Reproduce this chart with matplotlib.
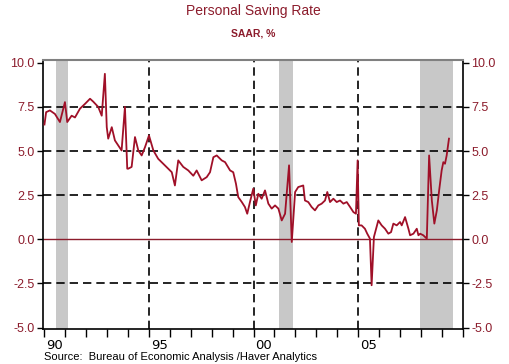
import numpy as np
import matplotlib
matplotlib.use('Agg')
import matplotlib.pyplot as plt

plt.rcParams['font.family'] = ['Liberation Sans', 'DejaVu Sans']

# monthly-ish readings of the personal saving rate (decimal year, %)
years = [1990.00, 1990.08, 1990.26, 1990.50, 1990.74, 1990.98, 1991.09, 1991.30,
         1991.46, 1991.70, 1991.94, 1992.18, 1992.33, 1992.57, 1992.74, 1992.89,
         1992.98, 1993.05, 1993.22, 1993.37, 1993.69, 1993.85, 1993.96, 1994.01,
         1994.17, 1994.33, 1994.49, 1994.65, 1994.81, 1995.00, 1995.21, 1995.44,
         1995.68, 1995.92, 1996.09, 1996.24, 1996.40, 1996.64, 1996.88, 1997.12,
         1997.28, 1997.52, 1997.76, 1997.92, 1998.08, 1998.24, 1998.48, 1998.64,
         1998.88, 1999.03, 1999.16, 1999.27, 1999.44, 1999.59, 1999.70, 1999.83,
         1999.99, 2000.11, 2000.23, 2000.39, 2000.55, 2000.71, 2000.87, 2001.03,
         2001.19, 2001.35, 2001.51, 2001.70, 2001.83, 2001.99, 2002.14, 2002.38,
         2002.46, 2002.62, 2002.78, 2002.94, 2003.10, 2003.26, 2003.42, 2003.53,
         2003.66, 2003.82, 2003.98, 2004.14, 2004.30, 2004.46, 2004.62, 2004.78,
         2004.90, 2004.98, 2005.04, 2005.17, 2005.33, 2005.44, 2005.57, 2005.65,
         2005.76, 2005.97, 2006.13, 2006.29, 2006.45, 2006.58, 2006.69, 2006.85,
         2007.01, 2007.09, 2007.25, 2007.41, 2007.49, 2007.65, 2007.81, 2007.89,
         2007.97, 2008.12, 2008.29, 2008.40, 2008.53, 2008.65, 2008.77, 2008.88,
         2009.00, 2009.08, 2009.16, 2009.24, 2009.35]
rate = [6.5, 7.2, 7.3, 7.1, 6.64, 7.77, 6.64, 7.0,
        6.9, 7.4, 7.67, 7.96, 7.8, 7.5, 7.0, 9.37,
        6.35, 5.7, 6.35, 5.6, 5.03, 7.5, 4.0, 4.0,
        4.1, 5.79, 5.03, 4.75, 5.22, 5.88, 5.03, 4.56,
        4.28, 4.0, 3.8, 3.05, 4.47, 4.1, 3.9, 3.6,
        3.9, 3.34, 3.52, 3.8, 4.65, 4.75, 4.47, 4.37,
        3.9, 3.8, 3.15, 2.39, 2.11, 1.83, 1.45, 2.11,
        2.87, 1.92, 2.58, 2.3, 2.77, 2.02, 1.74, 1.92,
        1.74, 1.07, 1.45, 4.19, -0.15, 2.68, 2.96, 3.05,
        2.2, 2.11, 1.83, 1.64, 1.92, 2.02, 2.2, 2.68,
        2.11, 2.3, 2.11, 2.2, 2.02, 2.11, 1.83, 1.54,
        1.45, 4.47, 0.79, 0.79, 0.6, 0.32, 0.04, -2.6,
        0.13, 1.07, 0.79, 0.6, 0.32, 0.41, 0.89, 0.79,
        0.98, 0.79, 1.26, 0.6, 0.23, 0.32, 0.6, 0.23,
        0.32, 0.23, 0.04, 4.75, 2.2, 0.89, 1.64, 2.77,
        3.9, 4.37, 4.28, 4.75, 5.7]

recessions = [(1990.55, 1991.15), (2001.2, 2001.9), (2007.95, 2009.55)]
yticks = [-5.0, -2.5, 0.0, 2.5, 5.0, 7.5, 10.0]
xlabels = ['90', '95', '00', '05']
xlabel_years = [1990, 1995, 2000, 2005]

red = '#8c1c2c'
line_red = '#a01028'

fig = plt.figure(figsize=(5.10, 3.64), dpi=100)
ax = fig.add_axes([0.0843, 0.096, 0.8235, 0.739])

for a, b in recessions:
    ax.axvspan(a, b, color='#c8c8c8', lw=0, zorder=0)

for y in [-2.5, 2.5, 5.0, 7.5]:
    ax.axhline(y, color='black', lw=1.2, ls=(0, (5, 3)), zorder=1)
for x in [1995, 2000, 2005]:
    ax.axvline(x, color='black', lw=1.2, ls=(0, (5, 3)), zorder=1)
ax.axhline(0, color=red, lw=1.0, zorder=2)

ax.plot(years, rate, color=line_red, lw=1.3, zorder=3)

ax.set_xlim(1989.93, 2010.02)
ax.set_ylim(-5.08, 10.15)

ax.set_yticks(yticks)
ax.set_yticklabels([f'{v:.1f}' for v in yticks])
ax.tick_params(axis='y', which='major', colors='black', labelcolor=red,
               labelsize=9, length=4, width=1, direction='out',
               left=True, right=True, labelleft=True, labelright=True, pad=2)

ax.set_xticks([y + 0.5 for y in xlabel_years])
ax.set_xticklabels(xlabels, family='DejaVu Sans')
ax.set_xticks(np.arange(1990, 2011), minor=True)
ax.tick_params(axis='x', which='major', length=0, labelsize=9.5, pad=7)
ax.tick_params(axis='x', which='minor', length=6, width=1, direction='out')

for s in ['left', 'right', 'bottom']:
    ax.spines[s].set_color('black')
    ax.spines[s].set_linewidth(1.2)
ax.spines['top'].set_color('#808080')
ax.spines['top'].set_linewidth(1.5)

fig.text(0.496, 0.970, 'Personal Saving Rate', ha='center', va='center',
         fontsize=10, color=red)
fig.text(0.496, 0.909, 'SAAR, %', ha='center', va='center',
         fontsize=7.5, color=red, fontweight='bold')
fig.text(0.086, 0.020, 'Source:  Bureau of Economic Analysis /Haver Analytics',
         ha='left', va='center', fontsize=8, color='black')

fig.savefig('out.png', dpi=100)
